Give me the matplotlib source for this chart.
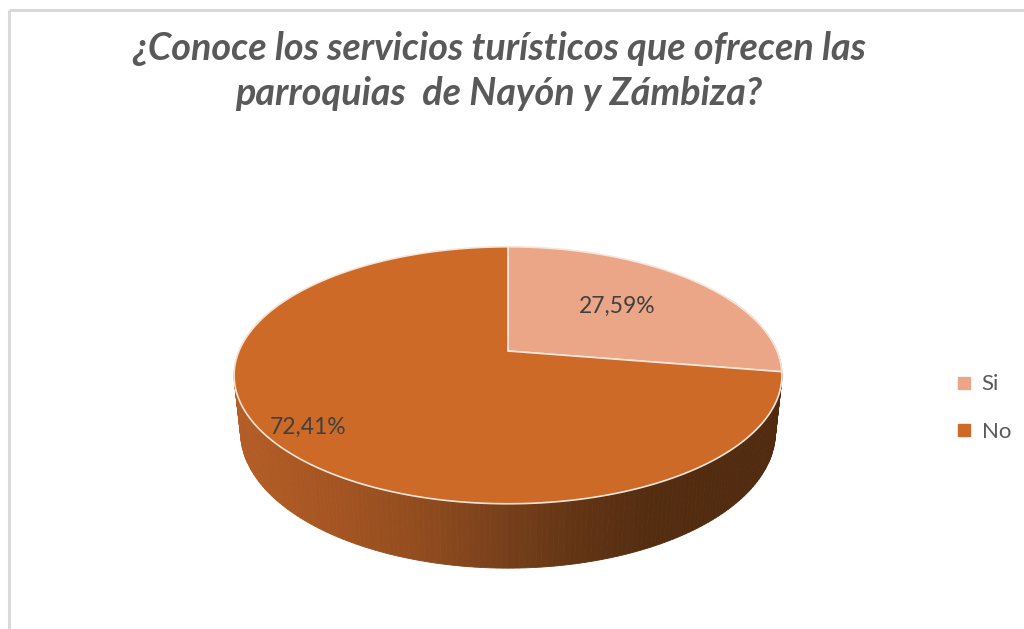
# -*- coding: UTF-8 -*-
# Pastel 3D de Excel: ¿Conoce los servicios turísticos...?
import numpy as np
import matplotlib
matplotlib.use("Agg")
import matplotlib.pyplot as plt
from matplotlib.patches import Polygon
from matplotlib.lines import Line2D

# datos
categorias = ["Si", "No"]
porcentajes = [27.59, 72.41]
etiquetas = ["27,59%", "72,41%"]
colores = ["#EBA687", "#CD6A28"]

titulo = "¿Conoce los servicios turísticos que ofrecen las\nparroquias  de Nayón y Zámbiza?"

# geometría de la proyección (pixeles)
cx, cy = 508, 351
s = 269.0
sin_e, cos_e = 0.4606, 0.888
D = 4.70
alto = 0.24


def proyectar(phi, r=1.0, y3=0.0):
    # phi en grados, medido en sentido horario desde arriba
    t = np.radians(phi)
    x3 = r * np.sin(t)
    z3 = r * np.cos(t)
    v = z3 * sin_e + y3 * cos_e
    d = z3 * cos_e - y3 * sin_e
    f = D / (D + d)
    return cx + s * x3 * f, cy - s * v * f


def color_lado(x):
    xs = [235, 330, 420, 500, 580, 650, 800]
    rs = [180, 165, 145, 120, 98, 84, 80]
    gs = [93, 85, 76, 64, 52, 45, 42]
    bs = [38, 34, 30, 27, 20, 17, 15]
    return (np.interp(x, xs, rs) / 255, np.interp(x, xs, gs) / 255, np.interp(x, xs, bs) / 255)


fig = plt.figure(figsize=(10.24, 6.29), dpi=100)
ax = fig.add_axes([0, 0, 1, 1])
ax.set_xlim(0, 1024)
ax.set_ylim(629, 0)
ax.axis("off")

# borde del área del gráfico
ax.plot([9, 9], [10, 629], color="#D9D9D9", lw=2.2, solid_capstyle="butt")
ax.plot([9, 1024], [10, 10], color="#D9D9D9", lw=2.2, solid_capstyle="butt")

# lado (cara lateral con degradado)
angs = np.arange(60, 300.5, 1.0)
for a0, a1 in zip(angs[:-1], angs[1:]):
    p0 = proyectar(a0)
    p1 = proyectar(a1)
    q1 = proyectar(a1, y3=-alto)
    q0 = proyectar(a0, y3=-alto)
    c = color_lado((p0[0] + p1[0]) / 2)
    ax.add_patch(Polygon([p0, p1, q1, q0], closed=True, facecolor=c,
                         edgecolor=c, lw=0.6))

# cara superior
inicio = 0.0
for pct, col in zip(porcentajes, colores):
    fin = inicio + pct / 100 * 360
    arco = np.linspace(inicio, fin, 200)
    pts = [(cx, cy)] + [proyectar(a) for a in arco]
    ax.add_patch(Polygon(pts, closed=True, facecolor=col, edgecolor="#F5E6DC", lw=1.2))
    inicio = fin

# etiquetas de datos
radios = [0.56, 0.88]
inicio = 0.0
for pct, txt, r in zip(porcentajes, etiquetas, radios):
    medio = inicio + pct / 100 * 180
    x, y = proyectar(medio, r=r)
    ax.text(x + 2, y - 3, txt, ha="center", va="center", fontsize=16.5, color="#404040",
            family="Lato")
    inicio += pct / 100 * 360

# título
ax.text(499, 71, titulo, ha="center", va="center", fontsize=27.2, color="#595959",
        family="Lato", fontweight="bold", fontstyle="italic", linespacing=1.32)

# leyenda
manejadores = [Line2D([], [], marker="s", linestyle="", color=c, markersize=8)
               for c in colores]
leg = ax.legend(manejadores, categorias, loc="center left",
                bbox_to_anchor=(0.911, 0.351), bbox_transform=fig.transFigure,
                frameon=False, handletextpad=0.3, handlelength=1.0,
                labelspacing=1.25, prop={"family": "Lato", "size": 16})
for t in leg.get_texts():
    t.set_color("#595959")

fig.savefig("out.png", dpi=100)
